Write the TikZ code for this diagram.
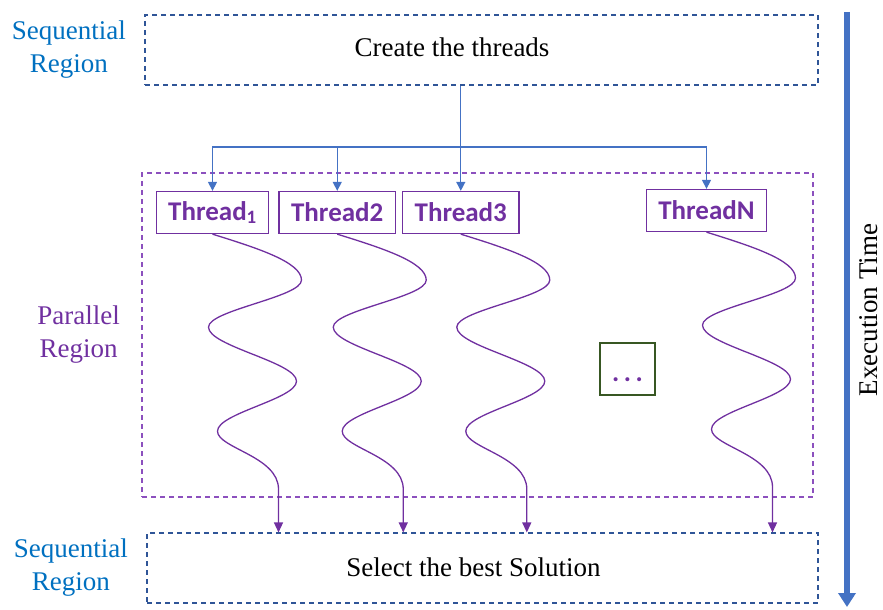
\documentclass[tikz,border=0pt]{standalone}
\usepackage{fontspec}
\setmainfont{Liberation Serif}
\newfontfamily\calibri{Carlito}
\usetikzlibrary{positioning,arrows.meta}
\definecolor{seqblue}{RGB}{0,112,192}
\definecolor{boxblue}{RGB}{47,85,151}
\definecolor{feedblue}{RGB}{68,114,196}
\definecolor{thrpurple}{RGB}{112,48,160}
\definecolor{parpurple}{RGB}{140,80,190}
\definecolor{dotgreen}{RGB}{56,87,35}
\tikzset{
  region/.style={draw=boxblue, dash pattern=on 5pt off 4pt, line width=1.1pt, minimum width=673pt, minimum height=70pt},
  thread/.style={draw=thrpurple, line width=1.3pt, text=thrpurple, font=\calibri\bfseries\fontsize{27}{30}\selectfont, minimum height=42pt, inner xsep=12pt, inner ysep=0pt},
  feed/.style={draw=feedblue, line width=1.3pt},
  wave/.style={draw=thrpurple, line width=1.3pt},
}
\begin{document}
\begin{tikzpicture}[x=1pt, y=-1pt]
    \useasboundingbox (0,0) rectangle (883,610);
    \begin{scope}[every node/.style={font=\fontsize{27}{33}\selectfont}]
        % sequential and parallel regions
        \node[region] (seq1) at (481.5,50) {};
        \node (create) at (452,47) {Create the threads};
        \node[text=seqblue, align=center, left=15pt of seq1] (lab1) {Sequential\\Region};
        \node[draw=parpurple, dash pattern=on 5pt off 4pt, line width=1.1pt, minimum width=671pt, minimum height=324pt] (par) at (477.5,335) {};
        \node[text=thrpurple, align=center, left=18pt of par] (lab2) {Parallel\\Region};
        \node[region, minimum width=671pt] (sel) at (482.5,568) {};
        \node (best) at (473.5,567) {Select the best Solution};
        \node[text=seqblue, align=center, left=15pt of sel] (lab3) {Sequential\\Region};
        % threads
        \node[thread] (t1) at (212.5,212.5) {Thread\textsubscript{1}};
        \node[thread, right=9pt of t1] (t2) {Thread2};
        \node[thread, right=6pt of t2] (t3) {Thread3};
        \node[thread] (tn) at (706.5,210.5) {ThreadN};
        \node[draw=dotgreen, line width=1.3pt, minimum width=55pt, minimum height=52pt, text=thrpurple, text height=24pt, text depth=0pt, font=\calibri\bfseries\fontsize{27}{30}\selectfont] (more) at (627.5,369) {.\,.\,.};
        % time axis
        \coordinate (tstart) at (847,12);
        \coordinate (tend) at (847,607);
        \node[rotate=90, inner sep=0pt] (exec) at (869,310) {Execution Time};
    \end{scope}
    \coordinate (bus) at (t3.north |- 0,147);
    \draw[feed] (seq1.south -| bus) -- (bus);
    \foreach \t in {t1,t2,t3,tn}
        \draw[feed, -{Triangle[width=9pt,length=9pt]}] (bus) -| (\t.north);
    \foreach \t in {t1,t2,t3,tn}
        \draw[wave, -{Triangle[width=9pt,length=10pt]}, shift={(\t.south)}]
            (0,0) .. controls (45,14) and (89,28) .. (89,46)
            .. controls (89,63) and (-4,76) .. (-4,93)
            .. controls (-4,112) and (84,128) .. (84,147)
            .. controls (84,165) and (5,179) .. (5,197)
            .. controls (5,214) and (66,222) .. (66,255)
            -- (66,0 |- sel.north);
    \draw[draw=feedblue, line width=6pt, -{Triangle[width=17pt,length=14pt]}] (tstart) -- (tend);
\end{tikzpicture}
\end{document}
